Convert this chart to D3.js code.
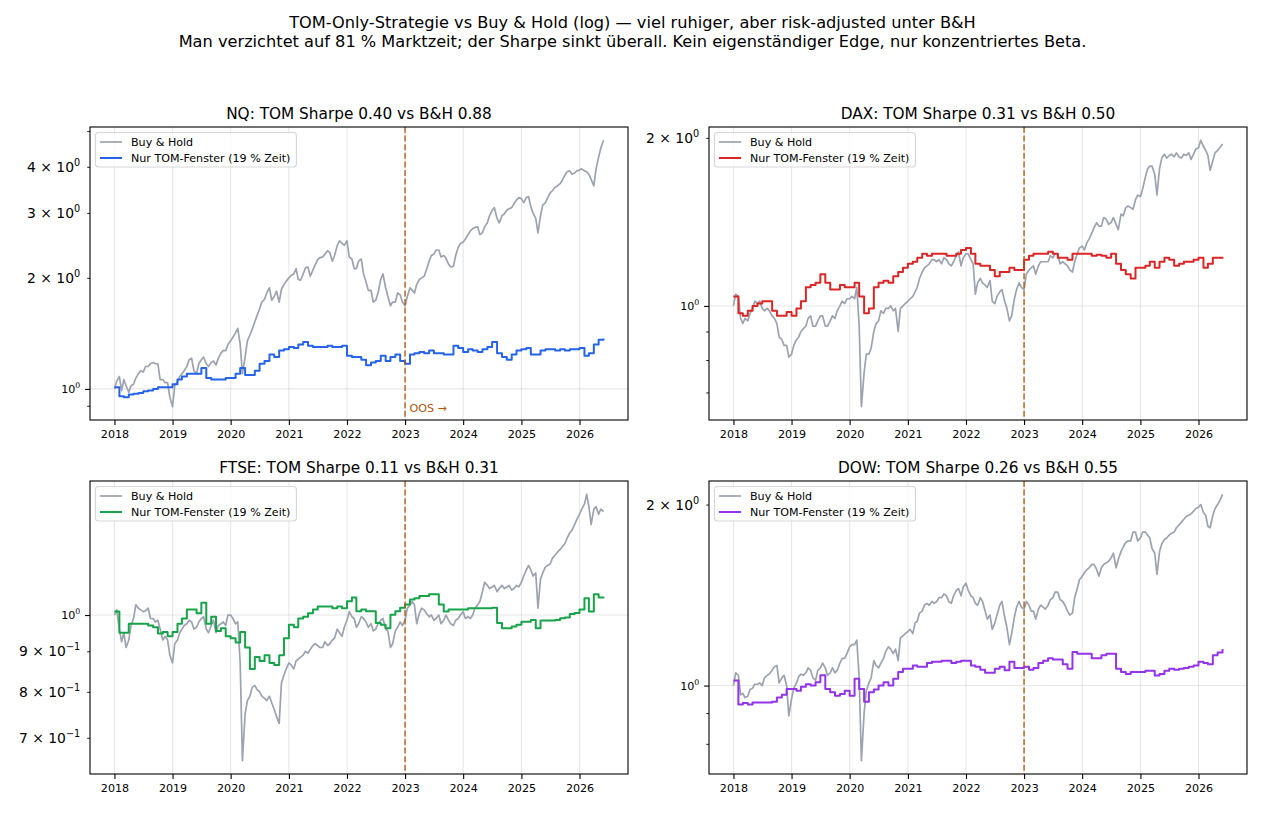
<!DOCTYPE html>
<html>
<head>
<meta charset="utf-8">
<script src="https://cdn.jsdelivr.net/npm/d3@7"></script>
<style>
body { margin: 0; background: #fff; }
text { font-family: "DejaVu Sans", sans-serif; }
</style>
</head>
<body>
<script>
// ---- Daten (Buy & Hold halbmonatlich, TOM monatlich) ----
var yearTicks = ["2018", "2019", "2020", "2021", "2022", "2023", "2024", "2025", "2026"];
var panelNames = ["NQ", "DAX", "FTSE", "DOW"];
var sharpeTom = [0.40, 0.31, 0.11, 0.26];
var sharpeBH = [0.88, 0.50, 0.31, 0.55];
var legendLabels = ["Buy & Hold", "Nur TOM-Fenster (19 % Zeit)"];
var oosDate = "2023-01-01";

// Buy & Hold, Werte am 1. und 15. jedes Monats (Jan 2018 .. Mai 2026) + 1. Jun 2026
var nqBH = [
  1.00,1.05, 1.08,0.99, 1.06,1.02, 0.98,1.02, 1.03,1.07, 1.10,1.12, 1.11,1.15, 1.15,1.17, 1.18,1.17, 1.17,1.06, 1.06,1.04, 1.04,0.95,
  0.895,1.02, 1.05,1.08, 1.10,1.12, 1.15,1.20, 1.21,1.12, 1.10,1.17, 1.20,1.22, 1.17,1.15, 1.18,1.19, 1.16,1.21, 1.25,1.27, 1.27,1.32,
  1.35,1.38, 1.42,1.46, 1.32,1.10, 1.22,1.35, 1.40,1.45, 1.52,1.58, 1.65,1.72, 1.75,1.82, 1.88,1.74, 1.78,1.84, 1.72,1.86, 1.92,1.96,
  2.00,2.03, 2.05,2.12, 1.98,1.97, 2.05,2.13, 2.14,2.02, 2.10,2.17, 2.24,2.27, 2.28,2.32, 2.37,2.34, 2.22,2.30, 2.45,2.52, 2.48,2.45,
  2.52,2.28, 2.25,2.12, 2.12,2.22, 2.25,2.05, 1.95,1.85, 1.85,1.72, 1.74,1.82, 1.98,2.05, 1.88,1.78, 1.68,1.72, 1.72,1.82, 1.80,1.72,
  1.68,1.78, 1.88,1.85, 1.82,1.92, 1.98,2.00, 2.02,2.10, 2.22,2.30, 2.32,2.38, 2.38,2.28, 2.30,2.26, 2.18,2.14, 2.15,2.30, 2.42,2.48,
  2.50,2.55, 2.62,2.68, 2.72,2.74, 2.75,2.62, 2.65,2.75, 2.82,2.95, 3.05,3.10, 2.90,2.82, 2.95,2.98, 3.05,3.08, 3.10,3.18, 3.25,3.30,
  3.28,3.20, 3.30,3.32, 3.12,3.00, 2.90,2.65, 2.95,3.15, 3.20,3.30, 3.40,3.45, 3.52,3.55, 3.60,3.68, 3.80,3.88, 3.90,3.82, 3.85,3.90,
  3.92,3.95, 3.90,3.88, 3.82,3.70, 3.55,3.95, 4.25,4.50, 4.72
];
var daxBH = [
  1.00,1.05, 1.04,0.95, 0.93,0.95, 0.94,0.97, 0.99,1.02, 1.01,1.02, 0.99,0.98, 0.99,0.98, 0.96,0.95, 0.93,0.88, 0.87,0.85, 0.85,0.81,
  0.82,0.85, 0.87,0.88, 0.90,0.91, 0.92,0.95, 0.96,0.92, 0.92,0.94, 0.96,0.96, 0.92,0.92, 0.94,0.96, 0.95,0.98, 1.00,1.02, 1.01,1.03,
  1.03,1.04, 1.03,1.08, 0.92,0.66, 0.76,0.82, 0.82,0.84, 0.90,0.93, 0.94,0.98, 0.97,0.99, 0.99,1.00, 0.98,0.99, 0.90,0.99, 1.00,1.01,
  1.02,1.03, 1.04,1.06, 1.08,1.12, 1.15,1.17, 1.18,1.19, 1.21,1.21, 1.20,1.21, 1.19,1.22, 1.21,1.19, 1.18,1.20, 1.23,1.25, 1.18,1.22,
  1.24,1.24, 1.21,1.19, 1.05,1.10, 1.12,1.10, 1.09,1.08, 1.11,1.02, 1.01,1.04, 1.06,1.07, 1.02,0.99, 0.94,0.96, 1.03,1.07, 1.10,1.08,
  1.07,1.14, 1.16,1.17, 1.18,1.14, 1.18,1.20, 1.20,1.20, 1.20,1.23, 1.22,1.24, 1.24,1.19, 1.20,1.19, 1.18,1.16, 1.15,1.20, 1.24,1.27,
  1.28,1.26, 1.30,1.32, 1.35,1.38, 1.41,1.39, 1.39,1.44, 1.43,1.40, 1.41,1.44, 1.40,1.37, 1.46,1.45, 1.50,1.51, 1.50,1.49, 1.55,1.58,
  1.57,1.62, 1.70,1.76, 1.78,1.78, 1.72,1.58, 1.76,1.84, 1.87,1.84, 1.86,1.87, 1.85,1.88, 1.85,1.84, 1.87,1.86, 1.88,1.83, 1.87,1.91,
  1.92,1.98, 1.93,1.90, 1.86,1.75, 1.82,1.88, 1.90,1.92, 1.95
];
var ftseBH = [
  1.00,1.015, 0.96,0.925, 0.95,0.91, 0.93,0.97, 0.99,1.03, 1.02,1.015, 1.01,1.012, 1.02,0.99, 0.99,0.98, 0.985,0.96, 0.93,0.94, 0.93,0.89,
  0.87,0.92, 0.93,0.95, 0.96,0.97, 0.975,0.985, 0.98,0.96, 0.965,0.98, 0.99,0.995, 0.96,0.95, 0.97,0.985, 0.95,0.97, 0.975,0.98, 0.97,1.00,
  1.00,0.99, 0.975,0.98, 0.87,0.655, 0.75,0.78, 0.79,0.81, 0.815,0.805, 0.80,0.79, 0.785,0.78, 0.79,0.775, 0.76,0.745, 0.73,0.82, 0.84,0.855,
  0.87,0.865, 0.855,0.875, 0.88,0.885, 0.89,0.90, 0.895,0.905, 0.915,0.92, 0.915,0.91, 0.91,0.925, 0.915,0.92, 0.93,0.935, 0.96,0.95, 0.94,0.965,
  0.985,1.01, 0.995,0.99, 0.965,0.975, 0.995,0.99, 0.98,0.965, 0.975,0.955, 0.96,0.975, 0.985,0.99, 0.96,0.955, 0.91,0.92, 0.955,0.965, 0.98,0.97,
  0.985,1.02, 1.03,1.04, 1.03,0.975, 1.005,1.02, 1.015,1.005, 0.995,1.00, 0.985,0.99, 1.00,0.975, 0.985,1.00, 0.985,0.975, 0.97,0.985, 0.99,1.00,
  1.01,0.99, 0.995,0.99, 1.00,1.02, 1.03,1.04, 1.07,1.10, 1.09,1.08, 1.085,1.09, 1.07,1.08, 1.09,1.08, 1.085,1.09, 1.075,1.08, 1.09,1.085,
  1.10,1.12, 1.14,1.155, 1.14,1.12, 1.13,1.02, 1.11,1.13, 1.15,1.155, 1.16,1.18, 1.19,1.20, 1.21,1.22, 1.23,1.25, 1.27,1.28, 1.30,1.32,
  1.34,1.36, 1.38,1.42, 1.37,1.30, 1.36,1.37, 1.34,1.36, 1.35
];
var dowBH = [
  1.00,1.05, 1.04,0.965, 0.97,0.955, 0.96,0.985, 0.99,1.005, 1.005,1.01, 1.00,1.03, 1.04,1.045, 1.06,1.075, 1.08,1.01, 1.03,1.04, 1.00,0.89,
  0.95,0.99, 1.01,1.035, 1.045,1.04, 1.05,1.07, 1.06,1.03, 1.02,1.06, 1.07,1.09, 1.07,1.04, 1.05,1.07, 1.05,1.06, 1.09,1.11, 1.11,1.13,
  1.16,1.17, 1.17,1.19, 1.03,0.75, 0.90,0.98, 1.01,1.03, 1.10,1.08, 1.07,1.09, 1.11,1.14, 1.16,1.15, 1.13,1.15, 1.10,1.20, 1.21,1.22,
  1.23,1.24, 1.22,1.27, 1.28,1.32, 1.33,1.36, 1.37,1.36, 1.38,1.37, 1.38,1.40, 1.40,1.42, 1.41,1.38, 1.37,1.41, 1.44,1.45, 1.41,1.46,
  1.48,1.44, 1.41,1.40, 1.37,1.36, 1.40,1.38, 1.33,1.29, 1.31,1.24, 1.27,1.31, 1.36,1.38, 1.30,1.25, 1.17,1.22, 1.30,1.35, 1.38,1.35,
  1.34,1.38, 1.36,1.33, 1.33,1.29, 1.34,1.36, 1.35,1.34, 1.36,1.39, 1.40,1.43, 1.43,1.39, 1.38,1.36, 1.33,1.31, 1.32,1.40, 1.45,1.50,
  1.52,1.54, 1.56,1.57, 1.59,1.59, 1.56,1.52, 1.57,1.59, 1.60,1.61, 1.63,1.66, 1.57,1.62, 1.67,1.70, 1.73,1.74, 1.74,1.80, 1.80,1.74,
  1.76,1.80, 1.80,1.78, 1.76,1.69, 1.66,1.53, 1.67,1.72, 1.75,1.76, 1.78,1.79, 1.80,1.83, 1.85,1.87, 1.89,1.91, 1.92,1.93, 1.95,1.97,
  1.98,2.00, 1.94,1.92, 1.84,1.83, 1.92,1.97, 2.00,2.03, 2.08
];

// TOM-Strategie, Stand nach dem Monatswechsel-Fenster (Jan 2018 .. Jun 2026)
var nqTOM = [
  1.01, 0.955, 0.95, 0.965, 0.97, 0.975, 0.985, 0.99, 1.00, 1.01, 1.01, 1.01,
  1.03, 1.06, 1.08, 1.10, 1.10, 1.10, 1.14, 1.07, 1.06, 1.06, 1.06, 1.07,
  1.07, 1.10, 1.14, 1.09, 1.09, 1.12, 1.17, 1.19, 1.24, 1.22, 1.27, 1.28,
  1.30, 1.29, 1.32, 1.34, 1.31, 1.30, 1.30, 1.30, 1.31, 1.30, 1.30, 1.31,
  1.23, 1.22, 1.22, 1.20, 1.16, 1.18, 1.19, 1.23, 1.19, 1.22, 1.24, 1.19,
  1.17, 1.24, 1.25, 1.26, 1.25, 1.27, 1.25, 1.25, 1.24, 1.24, 1.31, 1.29,
  1.26, 1.28, 1.27, 1.26, 1.28, 1.30, 1.34, 1.25, 1.22, 1.20, 1.24, 1.27,
  1.28, 1.29, 1.24, 1.24, 1.27, 1.28, 1.28, 1.27, 1.28, 1.27, 1.28, 1.28,
  1.29, 1.23, 1.25, 1.32, 1.36, 1.37
];
var daxTOM = [
  1.04, 0.97, 0.96, 0.98, 1.00, 1.01, 1.02, 1.02, 0.98, 0.96, 0.96, 0.975,
  0.96, 0.99, 1.02, 1.08, 1.09, 1.10, 1.14, 1.10, 1.07, 1.07, 1.09, 1.08,
  1.08, 1.10, 1.04, 0.97, 0.99, 1.08, 1.10, 1.11, 1.10, 1.13, 1.15, 1.17,
  1.19, 1.20, 1.22, 1.24, 1.23, 1.24, 1.24, 1.24, 1.23, 1.23, 1.24, 1.26,
  1.27, 1.24, 1.19, 1.18, 1.18, 1.16, 1.13, 1.15, 1.15, 1.17, 1.16, 1.16,
  1.21, 1.23, 1.24, 1.24, 1.24, 1.25, 1.24, 1.22, 1.22, 1.21, 1.24, 1.24,
  1.24, 1.24, 1.23, 1.235, 1.23, 1.22, 1.24, 1.19, 1.16, 1.14, 1.12, 1.17,
  1.17, 1.18, 1.20, 1.17, 1.20, 1.22, 1.21, 1.18, 1.19, 1.20, 1.20, 1.21,
  1.22, 1.17, 1.19, 1.22, 1.22, 1.215
];
var ftseTOM = [
  1.01, 0.95, 0.95, 0.975, 0.975, 0.975, 0.975, 0.97, 0.965, 0.948, 0.952, 0.94,
  0.952, 0.975, 0.99, 1.016, 1.016, 1.005, 1.036, 0.975, 0.995, 0.955, 0.962, 0.94,
  0.935, 0.923, 0.952, 0.91, 0.855, 0.885, 0.875, 0.89, 0.87, 0.865, 0.89, 0.935,
  0.972, 0.965, 0.99, 0.995, 1.005, 1.016, 1.025, 1.025, 1.025, 1.02, 1.025, 1.02,
  1.041, 1.052, 1.011, 1.016, 1.011, 1.011, 0.977, 0.972, 0.962, 1.001, 1.011, 1.021,
  1.031, 1.046, 1.05, 1.057, 1.057, 1.062, 1.062, 1.031, 1.01, 1.016, 1.016, 1.016,
  1.016, 1.02, 1.02, 1.02, 1.02, 1.02, 1.021, 0.977, 0.962, 0.962, 0.967, 0.972,
  0.981, 0.981, 0.986, 0.962, 0.984, 0.984, 0.984, 0.986, 0.991, 0.993, 1.003, 1.006,
  1.016, 1.05, 1.01, 1.062, 1.052, 1.05
];
var dowTOM = [
  1.02, 0.93, 0.935, 0.93, 0.937, 0.937, 0.937, 0.937, 0.94, 0.955, 0.965, 0.987,
  0.987, 0.98, 0.995, 1.005, 1.00, 1.013, 1.04, 0.987, 0.975, 0.962, 0.968, 0.98,
  0.962, 1.026, 0.987, 0.94, 0.975, 0.985, 1.00, 1.013, 1.00, 1.026, 1.053, 1.066,
  1.066, 1.08, 1.075, 1.075, 1.09, 1.095, 1.095, 1.10, 1.10, 1.09, 1.095, 1.10,
  1.10, 1.08, 1.075, 1.062, 1.05, 1.05, 1.066, 1.075, 1.06, 1.095, 1.07, 1.07,
  1.075, 1.062, 1.07, 1.09, 1.10, 1.11, 1.105, 1.105, 1.085, 1.066, 1.137, 1.13,
  1.13, 1.13, 1.11, 1.11, 1.123, 1.13, 1.13, 1.066, 1.053, 1.045, 1.053, 1.053,
  1.053, 1.058, 1.058, 1.039, 1.045, 1.058, 1.066, 1.062, 1.066, 1.07, 1.075, 1.08,
  1.095, 1.09, 1.085, 1.123, 1.135, 1.15
];

// Datumsachsen
var halfMonthDates = [];
d3.timeMonth.range(new Date(2018, 0, 1), new Date(2026, 5, 1)).forEach(function(d) {
  halfMonthDates.push(d, new Date(d.getFullYear(), d.getMonth(), 15));
});
halfMonthDates.push(new Date(2026, 5, 1));
var monthDates = d3.timeMonth.range(new Date(2018, 0, 1), new Date(2026, 6, 1));

var bhSeries = [nqBH, daxBH, ftseBH, dowBH];
var tomSeries = [nqTOM, daxTOM, ftseTOM, dowTOM];

// ---- Layout / Stil ----
var w = 1265, h = 814;
var aw = 538, ah = 293;
var axesPos = [{x: 90, y: 127}, {x: 709, y: 127}, {x: 90, y: 481}, {x: 709, y: 481}];
var tomColors = ["#2563eb", "#dc2626", "#16a34a", "#9333ea"];
var bhColor = "#9ca3af";
var oosColor = "#b45309";
var fsSmall = 11.1, fsMid = 13.9, fsTitle = 15.3, fsSup = 16.2;

var svg = d3.select("body")
  .append("svg")
  .attr("width", w)
  .attr("height", h)
  .attr("id", "mysvg");

// Haupttitel
var supLines = [
  "TOM-Only-Strategie vs Buy & Hold (log) \u2014 viel ruhiger, aber risk-adjusted unter B&H",
  "Man verzichtet auf 81 % Marktzeit; der Sharpe sinkt \u00fcberall. Kein eigenst\u00e4ndiger Edge, nur konzentriertes Beta."
];
svg.selectAll("text.sup")
  .data(supLines)
  .enter()
  .append("text")
  .attr("class", "sup")
  .attr("x", w / 2)
  .attr("y", function(d, i) { return 28 + i * 19; })
  .attr("text-anchor", "middle")
  .attr("font-size", fsSup + "px")
  .text(function(d) { return d; });

var yearDates = yearTicks.map(function(y) { return new Date(+y, 0, 1); });
var t0 = monthDates[0].getTime(), t1 = monthDates[monthDates.length - 1].getTime();
var xpad = (t1 - t0) * 0.05;
var parseDay = d3.timeParse("%Y-%m-%d");

function supText(sel, main, exp, fs) {
  sel.append("tspan").text(main);
  sel.append("tspan")
    .attr("font-size", (fs * 0.7) + "px")
    .attr("dy", (-fs * 0.42) + "px")
    .text(exp);
}

panelNames.forEach(function(name, i) {
  var pos = axesPos[i];
  var bh = bhSeries[i], tom = tomSeries[i];
  var g = svg.append("g").attr("transform", "translate(" + pos.x + "," + pos.y + ")");

  var xScale = d3.scaleTime()
    .domain([new Date(t0 - xpad), new Date(t1 + xpad)])
    .range([0, aw]);

  var all = bh.concat(tom);
  var lo = Math.log10(d3.min(all)), hi = Math.log10(d3.max(all));
  var m = (hi - lo) * 0.05;
  var yScale = d3.scaleLog()
    .domain([Math.pow(10, lo - m), Math.pow(10, hi + m)])
    .range([ah, 0]);

  // Log-Ticks: Haupt (10^n) und Neben (k*10^n)
  var dLo = yScale.domain()[0], dHi = yScale.domain()[1];
  var majors = [], minors = [];
  for (var e = Math.floor(Math.log10(dLo)); e <= Math.ceil(Math.log10(dHi)); e++) {
    for (var k = 1; k <= 9; k++) {
      var v = k * Math.pow(10, e);
      if (v >= dLo && v <= dHi) {
        (k === 1 ? majors : minors).push({v: v, k: k, e: e});
      }
    }
  }
  var numdec = Math.log10(dHi / dLo);
  var labelMinor = function(k) {
    if (numdec > 1) return false;
    if (numdec > 0.4) return [2, 3, 4, 6].indexOf(k) >= 0;
    return true;
  };

  // Gitter
  g.selectAll("line.vgrid")
    .data(yearDates)
    .enter()
    .append("line")
    .attr("x1", function(d) { return xScale(d); })
    .attr("x2", function(d) { return xScale(d); })
    .attr("y1", 0).attr("y2", ah)
    .attr("stroke", "#b0b0b0").attr("stroke-opacity", 0.3).attr("stroke-width", 1.1);
  g.selectAll("line.hgrid")
    .data(majors)
    .enter()
    .append("line")
    .attr("x1", 0).attr("x2", aw)
    .attr("y1", function(d) { return yScale(d.v); })
    .attr("y2", function(d) { return yScale(d.v); })
    .attr("stroke", "#b0b0b0").attr("stroke-opacity", 0.3).attr("stroke-width", 1.1);

  // Linien
  g.append("clipPath").attr("id", "clip" + i)
    .append("rect").attr("width", aw).attr("height", ah);
  var plot = g.append("g").attr("clip-path", "url(#clip" + i + ")");

  var bhLine = d3.line()
    .x(function(d, j) { return xScale(halfMonthDates[j]); })
    .y(function(d) { return yScale(d); });
  var tomLine = d3.line()
    .x(function(d, j) { return xScale(monthDates[j]); })
    .y(function(d) { return yScale(d); })
    .curve(d3.curveStepAfter);

  plot.append("path")
    .datum(bh)
    .attr("d", bhLine)
    .attr("fill", "none")
    .attr("stroke", bhColor)
    .attr("stroke-width", 1.7)
    .attr("stroke-linejoin", "round");
  plot.append("path")
    .datum(tom)
    .attr("d", tomLine)
    .attr("fill", "none")
    .attr("stroke", tomColors[i])
    .attr("stroke-width", 2)
    .attr("stroke-linejoin", "round");

  // Out-of-sample Grenze
  var xo = xScale(parseDay(oosDate));
  g.append("line")
    .attr("x1", xo).attr("x2", xo)
    .attr("y1", 0).attr("y2", ah)
    .attr("stroke", oosColor)
    .attr("stroke-opacity", 0.8)
    .attr("stroke-width", 1.6)
    .attr("stroke-dasharray", "6,2.6");
  if (i === 0) {
    g.append("text")
      .attr("x", xo + 4.5)
      .attr("y", ah - 8)
      .attr("font-size", fsSmall + "px")
      .attr("fill", oosColor)
      .text("OOS \u2192");
  }

  // X-Achse
  var xAxis = d3.axisBottom(xScale)
    .tickValues(yearDates)
    .tickFormat(d3.timeFormat("%Y"))
    .tickSize(4.9)
    .tickPadding(4.9);
  var gx = g.append("g")
    .attr("transform", "translate(0," + ah + ")")
    .call(xAxis);
  gx.select(".domain").remove();
  gx.selectAll("line").attr("stroke-width", 1.1);
  gx.selectAll("text")
    .attr("font-size", fsSmall + "px")
    .attr("font-family", "DejaVu Sans")
    .attr("fill", "#000");

  // Y-Achse: Tickstriche
  var gyMaj = g.append("g").call(d3.axisLeft(yScale)
    .tickValues(majors.map(function(d) { return d.v; }))
    .tickSize(4.9).tickFormat(""));
  var gyMin = g.append("g").call(d3.axisLeft(yScale)
    .tickValues(minors.map(function(d) { return d.v; }))
    .tickSize(2.8).tickFormat(""));
  gyMaj.select(".domain").remove();
  gyMin.select(".domain").remove();
  gyMaj.selectAll("line").attr("stroke-width", 1.1);
  gyMin.selectAll("line").attr("stroke-width", 0.85);

  // Y-Achse: Beschriftung im Stil "k × 10^e"
  var expStr = function(e) { return e < 0 ? "\u2212" + (-e) : String(e); };
  majors.forEach(function(d) {
    var t = g.append("text")
      .attr("x", -9.8)
      .attr("y", yScale(d.v) + fsSmall * 0.36)
      .attr("text-anchor", "end")
      .attr("font-size", fsSmall + "px");
    supText(t, "10", expStr(d.e), fsSmall);
  });
  minors.filter(function(d) { return labelMinor(d.k); }).forEach(function(d) {
    var t = g.append("text")
      .attr("x", -9.8)
      .attr("y", yScale(d.v) + fsMid * 0.36)
      .attr("text-anchor", "end")
      .attr("font-size", fsMid + "px");
    supText(t, d.k + " \u00d7 10", expStr(d.e), fsMid);
  });

  // Rahmen
  g.append("rect")
    .attr("width", aw).attr("height", ah)
    .attr("fill", "none")
    .attr("stroke", "#000")
    .attr("stroke-width", 1.1);

  // Titel
  g.append("text")
    .attr("x", aw / 2)
    .attr("y", -8.5)
    .attr("text-anchor", "middle")
    .attr("font-size", fsTitle + "px")
    .text(name + ": TOM Sharpe " + sharpeTom[i].toFixed(2) + " vs B&H " + sharpeBH[i].toFixed(2));

  // Legende
  var lg = g.append("g").attr("transform", "translate(5.5,5.5)");
  var box = lg.append("rect")
    .attr("rx", 3).attr("ry", 3)
    .attr("height", 34.5)
    .attr("fill", "#fff").attr("fill-opacity", 0.8)
    .attr("stroke", "#cccccc").attr("stroke-opacity", 0.8)
    .attr("stroke-width", 1.1);
  var legColors = [bhColor, tomColors[i]];
  var legWidths = [1.7, 2];
  var maxW = 0;
  legendLabels.forEach(function(lab, j) {
    var cy = 9.5 + j * 16;
    lg.append("line")
      .attr("x1", 4.4).attr("x2", 26.6)
      .attr("y1", cy).attr("y2", cy)
      .attr("stroke", legColors[j])
      .attr("stroke-width", legWidths[j]);
    var t = lg.append("text")
      .attr("x", 35.5)
      .attr("y", cy + 4)
      .attr("font-size", fsSmall + "px")
      .text(lab);
    maxW = Math.max(maxW, t.node().getComputedTextLength());
  });
  box.attr("width", 35.5 + maxW + 6);
});
</script>
</body>
</html>
